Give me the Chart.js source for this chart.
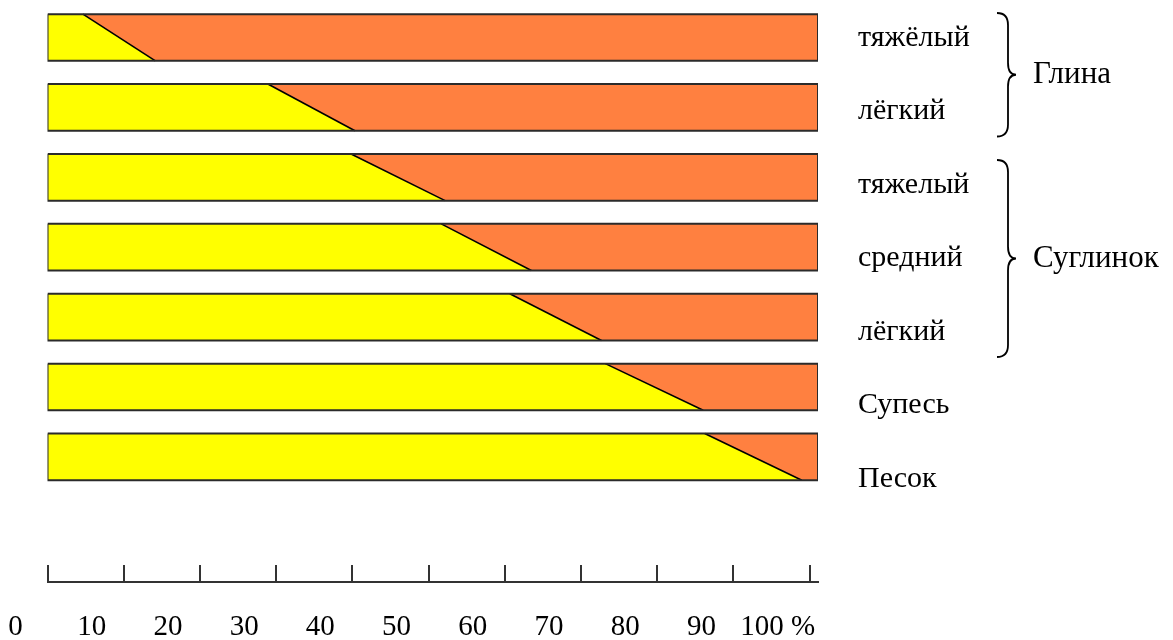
<!DOCTYPE html>
<html>
<head>
<meta charset="utf-8">
<script src="https://cdn.jsdelivr.net/npm/chart.js@4.4.1/dist/chart.umd.min.js"></script>
<style>
  html, body { margin: 0; padding: 0; background: #fff; }
  #wrap { width: 1173px; height: 640px; }
</style>
</head>
<body>
<div id="wrap"><canvas id="soilChart"></canvas></div>
<script>
const soilNames = ['тяжёлый', 'лёгкий', 'тяжелый', 'средний', 'лёгкий', 'Супесь', 'Песок'];
// share of sand (%) at the upper and at the lower edge of each bar
const sandTop = [4.6, 28.6, 39.4, 51.1, 60.0, 72.4, 85.3];
const sandBottom = [14.0, 39.9, 51.6, 62.8, 71.9, 85.1, 97.9];
const groupNames = ['Глина', 'Суглинок'];
const groupFirst = [0, 2];
const groupLast = [1, 4];
const tickValues = [0, 10, 20, 30, 40, 50, 60, 70, 80, 90, 100];
const tickLabels = ['0', '10', '20', '30', '40', '50', '60', '70', '80', '90', '100 %'];

const serif = '"Liberation Serif", "Times New Roman", serif';
const half = 0.334;   // half bar thickness in row units

const outlines = [];
const sand = [];
const clay = [];
soilNames.forEach((name, i) => {
    outlines.push({
        label: name,
        data: [
            { x: 0, y: i - half }, { x: 100, y: i - half },
            { x: 100, y: i + half }, { x: 0, y: i + half }, { x: 0, y: i - half }
        ],
        borderColor: '#2b2b2b',
        borderWidth: 2,
        fill: false,
        pointRadius: 0
    });
    const edge = [{ x: sandTop[i], y: i - half }, { x: sandBottom[i], y: i + half }];
    sand.push({
        label: name,
        data: edge,
        borderColor: '#000',
        borderWidth: 1.6,
        backgroundColor: '#FFFF00',
        fill: { value: 0 },
        pointRadius: 0
    });
    clay.push({
        label: name,
        data: edge,
        borderColor: 'rgba(0,0,0,0)',
        borderWidth: 1,
        backgroundColor: '#FF8040',
        fill: { value: 100 },
        pointRadius: 0
    });
});

function drawBrace(ctx, x, top, bottom, mid) {
    const xm = x + 11;
    const tip = x + 19;
    const r = 12;
    ctx.beginPath();
    ctx.moveTo(x, top);
    ctx.quadraticCurveTo(xm, top, xm, top + r);
    ctx.lineTo(xm, mid - r);
    ctx.quadraticCurveTo(xm, mid, tip, mid);
    ctx.quadraticCurveTo(xm, mid, xm, mid + r);
    ctx.lineTo(xm, bottom - r);
    ctx.quadraticCurveTo(xm, bottom, x, bottom);
    ctx.stroke();
}

const bracePlugin = {
    id: 'braces',
    afterDraw(chart) {
        const ctx = chart.ctx;
        const ys = chart.scales.y2;
        const xLeft = chart.chartArea.right + 179;
        ctx.save();
        ctx.strokeStyle = '#000';
        ctx.lineWidth = 1.8;
        ctx.fillStyle = '#000';
        ctx.font = '31px ' + serif;
        ctx.textBaseline = 'middle';
        ctx.textAlign = 'left';
        groupNames.forEach((g, k) => {
            const first = groupFirst[k];
            const last = groupLast[k];
            const mid = ys.getPixelForValue((first + last) / 2);
            const span = ys.getPixelForValue((last - first + 1) / 2 - 0.16) - ys.getPixelForValue(0);
            drawBrace(ctx, xLeft, mid - span, mid + span, mid);
            ctx.fillText(g, xLeft + 36, mid);
        });
        ctx.restore();
    }
};

// keep label overhang from pushing the plot area around
function noPadding(s) {
    s.paddingTop = 0;
    s.paddingBottom = 0;
    s.paddingLeft = 0;
    s.paddingRight = 0;
}

const ctx = document.getElementById('soilChart').getContext('2d');
new Chart(ctx, {
    type: 'line',
    data: { datasets: [...outlines, ...sand, ...clay] },
    options: {
        indexAxis: 'y',
        responsive: true,
        maintainAspectRatio: false,
        animation: false,
        layout: { padding: { left: 47.5, right: 0, top: 0, bottom: 0 } },
        plugins: {
            legend: { display: false },
            tooltip: { enabled: false }
        },
        elements: { line: { tension: 0 } },
        scales: {
            x: { type: 'linear', min: 0, max: 100, display: false },
            y: { type: 'linear', min: -0.5365, max: 7.79, reverse: true, display: false },
            xt: {
                type: 'linear',
                position: 'bottom',
                min: 0,
                max: 101.1,
                afterBuildTicks: s => { s.ticks = tickValues.map(v => ({ value: v })); },
                afterFit: s => { s.height = 58; noPadding(s); },
                border: { display: true, color: '#333', width: 2 },
                grid: { drawOnChartArea: false, drawTicks: true, tickLength: -17, color: '#333', lineWidth: 2 },
                ticks: {
                    callback: (v, i) => tickLabels[i],
                    labelOffset: -32,
                    padding: 45,
                    color: '#000',
                    font: { family: serif, size: 29 },
                    autoSkip: false,
                    maxRotation: 0,
                    minRotation: 0
                }
            },
            y2: {
                type: 'linear',
                position: 'right',
                min: -0.517,
                max: 7.401,
                reverse: true,
                afterBuildTicks: s => { s.ticks = soilNames.map((n, i) => ({ value: i })); },
                afterFit: s => { s.width = 355; noPadding(s); },
                border: { display: false },
                grid: { display: false, drawTicks: false },
                ticks: {
                    callback: (v, i) => soilNames[i],
                    padding: 40,
                    color: '#000',
                    font: { family: serif, size: 30 },
                    autoSkip: false
                }
            }
        }
    },
    plugins: [bracePlugin]
});
</script>
</body>
</html>
